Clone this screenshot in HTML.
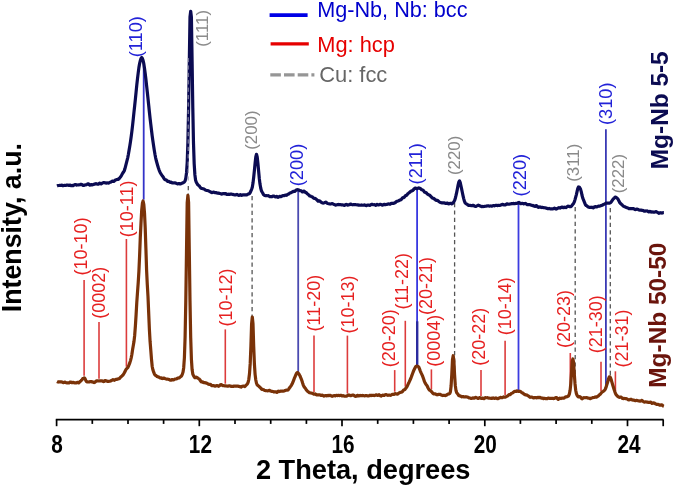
<!DOCTYPE html>
<html><head><meta charset="utf-8"><title>XRD</title><style>html,body{margin:0;padding:0;background:#fff;width:675px;height:487px;overflow:hidden}svg{display:block}</style></head><body>
<svg width="675" height="487" viewBox="0 0 675 487">
<rect width="675" height="487" fill="#fff"/>
<line x1="143.7" y1="63.3" x2="143.7" y2="199.7" stroke="#3333c8" stroke-width="1.8"/>
<line x1="298.2" y1="189.8" x2="298.2" y2="373.2" stroke="#4a4ab0" stroke-width="1.8"/>
<line x1="417.1" y1="188.6" x2="417.1" y2="366.1" stroke="#3838e0" stroke-width="1.8"/>
<line x1="518.5" y1="202.6" x2="518.5" y2="391.4" stroke="#3c3ce0" stroke-width="1.8"/>
<line x1="605.9" y1="129.2" x2="605.9" y2="387.6" stroke="#3a3ab4" stroke-width="1.8"/>
<line x1="417.2" y1="321.3" x2="417.2" y2="366" stroke="#2b2b9e" stroke-width="2.4"/>
<line x1="188.3" y1="186.0" x2="188.3" y2="196.0" stroke="#555" stroke-width="1.3" stroke-dasharray="4.2 3.2"/>
<line x1="252.1" y1="196.0" x2="252.1" y2="319.0" stroke="#555" stroke-width="1.3" stroke-dasharray="4.2 3.2"/>
<line x1="454.6" y1="203.0" x2="454.6" y2="375.1" stroke="#555" stroke-width="1.3" stroke-dasharray="4.2 3.2"/>
<line x1="575.2" y1="207.0" x2="575.2" y2="385.6" stroke="#555" stroke-width="1.3" stroke-dasharray="4.2 3.2"/>
<line x1="610.3" y1="208.0" x2="610.3" y2="377.5" stroke="#555" stroke-width="1.3" stroke-dasharray="4.2 3.2"/>
<line x1="84.1" y1="279.9" x2="84.1" y2="375.8" stroke="#dc3c3c" stroke-width="1.6"/>
<line x1="99.0" y1="322.0" x2="99.0" y2="378.8" stroke="#dc3c3c" stroke-width="1.6"/>
<line x1="126.4" y1="239.0" x2="126.4" y2="366.7" stroke="#dc3c3c" stroke-width="1.6"/>
<line x1="225.3" y1="329.4" x2="225.3" y2="383.7" stroke="#dc3c3c" stroke-width="1.6"/>
<line x1="314.0" y1="335.6" x2="314.0" y2="392.0" stroke="#dc3c3c" stroke-width="1.6"/>
<line x1="347.4" y1="335.6" x2="347.4" y2="393.5" stroke="#dc3c3c" stroke-width="1.6"/>
<line x1="394.7" y1="370.1" x2="394.7" y2="391.7" stroke="#dc3c3c" stroke-width="1.6"/>
<line x1="405.3" y1="320.8" x2="405.3" y2="386.7" stroke="#dc3c3c" stroke-width="1.6"/>
<line x1="431.4" y1="369.4" x2="431.4" y2="389.4" stroke="#dc3c3c" stroke-width="1.6"/>
<line x1="481.0" y1="370.1" x2="481.0" y2="396.1" stroke="#dc3c3c" stroke-width="1.6"/>
<line x1="505.1" y1="340.7" x2="505.1" y2="394.9" stroke="#dc3c3c" stroke-width="1.6"/>
<line x1="570.3" y1="353.0" x2="570.3" y2="386.2" stroke="#dc3c3c" stroke-width="1.6"/>
<line x1="601.0" y1="361.8" x2="601.0" y2="391.1" stroke="#dc3c3c" stroke-width="1.6"/>
<line x1="615.4" y1="371.3" x2="615.4" y2="391.0" stroke="#dc3c3c" stroke-width="1.6"/>
<path d="M57.00 381.51L57.70 381.91L58.40 382.06L59.10 381.82L59.80 381.77L60.50 381.78L61.20 381.83L61.90 381.96L62.60 382.29L63.30 382.68L64.00 382.52L64.70 382.12L65.40 382.31L66.10 382.77L66.80 382.82L67.50 382.77L68.20 383.02L68.90 382.96L69.60 382.39L70.30 382.02L71.00 382.15L71.70 382.55L72.40 382.60L73.10 382.41L73.80 382.57L74.50 382.87L75.20 382.78L75.90 382.75L76.60 382.81L77.30 382.30L78.00 382.36L78.70 382.86L79.40 382.33L80.10 381.48L80.80 380.90L81.50 380.29L82.20 379.51L82.90 378.53L83.60 378.21L84.30 377.85L85.00 378.64L85.70 380.18L86.40 381.51L87.10 381.90L87.80 381.92L88.50 381.99L89.20 381.90L89.90 381.68L90.60 381.52L91.30 381.66L92.00 381.85L92.70 381.93L93.40 382.26L94.10 382.57L94.80 382.27L95.50 381.58L96.20 381.12L96.90 380.90L97.60 380.81L98.30 380.95L99.00 381.03L99.70 380.96L100.40 380.93L101.10 380.93L101.80 380.84L102.50 381.04L103.20 381.60L103.90 381.51L104.60 380.86L105.30 380.61L106.00 380.74L106.70 381.07L107.40 381.40L108.10 381.43L108.80 381.33L109.50 381.25L110.20 381.11L110.90 380.87L111.60 380.56L112.30 380.02L113.00 379.60L113.70 379.96L114.40 380.26L115.10 379.71L115.80 379.40L116.50 379.51L117.20 379.16L117.90 378.88L118.60 378.91L119.30 378.55L120.00 377.80L120.70 377.03L121.40 376.47L122.10 375.89L122.80 375.17L123.50 374.29L124.20 373.06L124.90 371.66L125.60 370.24L126.30 368.99L127.00 368.34L127.70 367.66L128.40 366.26L129.10 364.67L129.80 362.91L130.50 360.59L131.20 357.85L131.90 354.18L132.60 349.58L133.30 345.46L134.00 341.37L134.70 335.23L135.40 325.87L136.10 314.55L136.80 302.25L137.50 292.31L138.20 282.95L138.90 271.34L139.60 255.86L140.30 237.27L141.00 223.09L141.70 210.14L142.40 203.31L143.10 201.00L143.80 204.38L144.50 212.94L145.20 227.68L145.90 248.36L146.60 270.36L147.30 284.68L148.00 296.66L148.70 313.17L149.40 329.59L150.10 341.73L150.80 350.42L151.50 359.45L152.20 366.48L152.90 369.83L153.60 371.94L154.30 373.69L155.00 375.00L155.70 375.40L156.40 375.84L157.10 376.50L157.80 376.80L158.50 376.85L159.20 377.27L159.90 377.97L160.60 378.03L161.30 377.83L162.00 378.37L162.70 378.58L163.40 378.07L164.10 378.08L164.80 378.56L165.50 378.79L166.20 379.03L166.90 379.23L167.60 379.15L168.30 379.24L169.00 379.52L169.70 379.85L170.40 380.17L171.10 380.09L171.80 379.61L172.50 379.62L173.20 380.01L173.90 379.82L174.60 379.26L175.30 378.99L176.00 379.00L176.70 378.75L177.40 378.34L178.10 378.05L178.80 377.98L179.50 377.70L180.20 376.99L180.90 376.47L181.60 375.81L182.30 374.38L183.00 372.13L183.70 367.70L184.40 357.74L185.10 337.05L185.80 300.88L186.50 251.53L187.20 202.66L187.90 195.32L188.60 202.42L189.30 251.40L190.00 301.07L190.70 337.65L191.40 359.03L192.10 369.62L192.80 374.10L193.50 375.71L194.20 376.74L194.90 377.65L195.60 377.59L196.30 377.13L197.00 377.40L197.70 377.94L198.40 378.50L199.10 378.98L199.80 379.63L200.50 380.81L201.20 381.78L201.90 381.82L202.60 381.87L203.30 382.42L204.00 382.58L204.70 382.66L205.40 382.83L206.10 382.91L206.80 383.21L207.50 383.61L208.20 384.02L208.90 384.37L209.60 384.38L210.30 384.37L211.00 384.90L211.70 385.57L212.40 385.69L213.10 385.56L213.80 385.65L214.50 385.88L215.20 386.12L215.90 386.02L216.60 385.53L217.30 385.52L218.00 386.05L218.70 386.33L219.40 385.81L220.10 385.03L220.80 384.67L221.50 384.69L222.20 385.29L222.90 385.67L223.60 385.56L224.30 385.72L225.00 385.88L225.70 385.88L226.40 386.02L227.10 386.10L227.80 386.05L228.50 386.06L229.20 385.86L229.90 385.78L230.60 386.17L231.30 386.35L232.00 386.28L232.70 386.47L233.40 386.37L234.10 385.98L234.80 385.99L235.50 386.03L236.20 386.06L236.90 386.19L237.60 386.11L238.30 386.16L239.00 386.41L239.70 386.58L240.40 386.89L241.10 387.06L241.80 386.66L242.50 386.24L243.20 386.10L243.90 386.34L244.60 386.57L245.30 386.13L246.00 385.24L246.70 384.65L247.40 383.95L248.10 382.32L248.80 379.31L249.50 373.74L250.20 363.63L250.90 346.36L251.60 323.83L252.30 317.03L253.00 323.70L253.70 346.21L254.40 363.81L255.10 374.33L255.80 379.98L256.50 383.26L257.20 384.96L257.90 385.44L258.60 385.97L259.30 386.80L260.00 387.43L260.70 388.05L261.40 388.88L262.10 389.37L262.80 389.46L263.50 389.68L264.20 390.12L264.90 390.50L265.60 390.61L266.30 390.70L267.00 390.74L267.70 390.82L268.40 390.76L269.10 390.36L269.80 390.44L270.50 390.96L271.20 391.18L271.90 391.34L272.60 391.53L273.30 391.60L274.00 391.95L274.70 391.99L275.40 391.75L276.10 392.08L276.80 392.43L277.50 391.85L278.20 391.25L278.90 391.61L279.60 391.52L280.30 391.15L281.00 391.23L281.70 391.14L282.40 391.18L283.10 391.17L283.80 390.99L284.50 390.85L285.20 390.56L285.90 390.33L286.60 390.09L287.30 390.06L288.00 390.02L288.70 389.10L289.40 387.96L290.10 387.13L290.80 386.16L291.50 385.09L292.20 383.81L292.90 382.20L293.60 380.35L294.30 378.45L295.00 376.88L295.70 375.24L296.40 373.55L297.10 372.63L297.80 372.70L298.50 373.54L299.20 374.54L299.90 375.73L300.60 377.35L301.30 379.07L302.00 381.08L302.70 383.34L303.40 385.35L304.10 386.82L304.80 387.64L305.50 388.50L306.20 389.67L306.90 390.59L307.60 391.25L308.30 391.84L309.00 392.36L309.70 392.79L310.40 392.93L311.10 393.04L311.80 393.26L312.50 393.31L313.20 393.69L313.90 394.24L314.60 394.03L315.30 393.93L316.00 394.55L316.70 394.96L317.40 394.94L318.10 394.86L318.80 394.82L319.50 394.74L320.20 394.97L320.90 395.39L321.60 395.27L322.30 395.10L323.00 395.53L323.70 396.07L324.40 395.96L325.10 395.54L325.80 395.55L326.50 395.82L327.20 395.67L327.90 395.39L328.60 395.60L329.30 395.59L330.00 395.35L330.70 395.54L331.40 396.06L332.10 396.28L332.80 396.03L333.50 395.73L334.20 395.60L334.90 395.82L335.60 395.78L336.30 395.32L337.00 395.46L337.70 395.61L338.40 395.28L339.10 395.45L339.80 395.60L340.50 395.27L341.20 395.38L341.90 395.81L342.60 395.80L343.30 395.65L344.00 395.90L344.70 396.14L345.40 396.27L346.10 396.27L346.80 396.06L347.50 395.67L348.20 395.12L348.90 394.97L349.60 395.21L350.30 395.62L351.00 395.69L351.70 395.31L352.40 395.20L353.10 395.08L353.80 395.30L354.50 395.92L355.20 396.17L355.90 396.34L356.60 396.13L357.30 395.34L358.00 395.33L358.70 395.95L359.40 395.70L360.10 395.40L360.80 395.72L361.50 395.71L362.20 395.44L362.90 395.48L363.60 395.65L364.30 395.79L365.00 395.80L365.70 395.58L366.40 395.55L367.10 395.77L367.80 395.92L368.50 395.90L369.20 395.64L369.90 395.34L370.60 395.42L371.30 395.60L372.00 395.37L372.70 395.24L373.40 395.32L374.10 395.55L374.80 395.49L375.50 395.06L376.20 394.89L376.90 395.08L377.60 395.47L378.30 395.22L379.00 394.74L379.70 395.09L380.40 395.77L381.10 396.05L381.80 395.69L382.50 395.15L383.20 395.25L383.90 395.48L384.60 395.09L385.30 394.74L386.00 394.55L386.70 394.70L387.40 395.20L388.10 395.30L388.80 395.14L389.50 395.15L390.20 395.30L390.90 395.23L391.60 394.77L392.30 394.30L393.00 394.28L393.70 394.47L394.40 394.09L395.10 393.66L395.80 393.79L396.50 394.03L397.20 394.17L397.90 393.92L398.60 393.25L399.30 392.83L400.00 392.56L400.70 392.22L401.40 392.13L402.10 391.96L402.80 391.20L403.50 390.17L404.20 389.75L404.90 389.43L405.60 388.52L406.30 387.70L407.00 386.68L407.70 385.09L408.40 383.59L409.10 382.21L409.80 380.59L410.50 378.99L411.20 377.29L411.90 375.35L412.60 373.54L413.30 371.68L414.00 369.90L414.70 368.54L415.40 367.21L416.10 366.19L416.80 366.04L417.50 366.26L418.20 366.46L418.90 367.31L419.60 369.13L420.30 371.01L421.00 372.64L421.70 374.13L422.40 375.67L423.10 377.51L423.80 379.62L424.50 381.65L425.20 383.08L425.90 384.19L426.60 385.13L427.30 386.23L428.00 387.73L428.70 389.12L429.40 390.07L430.10 390.43L430.80 390.87L431.50 391.69L432.20 392.38L432.90 393.26L433.60 393.91L434.30 393.99L435.00 393.85L435.70 394.01L436.40 394.64L437.10 394.80L437.80 394.58L438.50 394.41L439.20 394.33L439.90 394.36L440.60 394.60L441.30 394.92L442.00 395.25L442.70 395.53L443.40 395.45L444.10 395.25L444.80 395.44L445.50 395.58L446.20 395.32L446.90 394.91L447.60 394.26L448.30 394.03L449.00 394.00L449.70 393.50L450.40 391.88L451.10 385.99L451.80 374.08L452.50 359.64L453.20 355.73L453.90 360.90L454.60 375.10L455.30 385.40L456.00 390.62L456.70 392.74L457.40 393.53L458.10 394.43L458.80 395.57L459.50 395.92L460.20 395.79L460.90 396.27L461.60 396.82L462.30 396.67L463.00 396.56L463.70 396.85L464.40 396.99L465.10 396.86L465.80 396.72L466.50 396.82L467.20 396.97L467.90 397.20L468.60 397.64L469.30 397.88L470.00 398.07L470.70 398.36L471.40 398.41L472.10 398.21L472.80 397.88L473.50 397.98L474.20 398.24L474.90 397.82L475.60 397.44L476.30 397.58L477.00 397.93L477.70 398.28L478.40 398.33L479.10 397.87L479.80 397.57L480.50 398.04L481.20 398.39L481.90 398.21L482.60 398.13L483.30 398.44L484.00 398.58L484.70 398.10L485.40 397.64L486.10 397.75L486.80 397.76L487.50 397.72L488.20 398.00L488.90 398.11L489.60 398.22L490.30 398.24L491.00 398.32L491.70 398.49L492.40 398.13L493.10 397.92L493.80 398.25L494.50 398.41L495.20 398.11L495.90 397.93L496.60 398.24L497.30 398.63L498.00 398.68L498.70 398.28L499.40 397.93L500.10 397.59L500.80 397.37L501.50 397.70L502.20 397.77L502.90 397.29L503.60 396.91L504.30 397.01L505.00 397.18L505.70 396.94L506.40 396.55L507.10 396.18L507.80 395.83L508.50 395.19L509.20 394.57L509.90 394.67L510.60 394.35L511.30 393.50L512.00 393.17L512.70 392.80L513.40 392.24L514.10 391.71L514.80 391.26L515.50 391.43L516.20 391.40L516.90 390.85L517.60 390.99L518.30 391.44L519.00 391.35L519.70 391.18L520.40 391.46L521.10 392.05L521.80 392.65L522.50 392.97L523.20 393.30L523.90 393.97L524.60 394.50L525.30 394.81L526.00 394.88L526.70 394.99L527.40 395.39L528.10 395.76L528.80 396.28L529.50 396.94L530.20 397.29L530.90 397.17L531.60 397.00L532.30 397.20L533.00 397.69L533.70 397.87L534.40 397.65L535.10 397.50L535.80 397.55L536.50 397.89L537.20 397.75L537.90 397.26L538.60 397.53L539.30 397.53L540.00 397.33L540.70 397.79L541.40 398.14L542.10 397.99L542.80 398.08L543.50 398.56L544.20 398.44L544.90 398.30L545.60 398.66L546.30 398.72L547.00 398.71L547.70 398.38L548.40 398.06L549.10 398.38L549.80 398.44L550.50 398.43L551.20 398.48L551.90 398.26L552.60 398.39L553.30 398.55L554.00 398.46L554.70 398.20L555.40 397.75L556.10 397.57L556.80 397.85L557.50 398.74L558.20 399.40L558.90 398.82L559.60 398.21L560.30 398.30L561.00 398.53L561.70 398.30L562.40 397.99L563.10 398.13L563.80 398.17L564.50 397.76L565.20 397.02L565.90 396.87L566.60 396.95L567.30 396.55L568.00 396.30L568.70 395.68L569.40 393.90L570.10 390.30L570.80 383.55L571.50 373.07L572.20 361.21L572.90 358.98L573.60 362.23L574.30 373.76L575.00 383.73L575.70 390.20L576.40 393.60L577.10 395.39L577.80 396.44L578.50 396.95L579.20 396.73L579.90 396.56L580.60 397.21L581.30 398.20L582.00 398.77L582.70 398.41L583.40 397.82L584.10 397.69L584.80 397.73L585.50 397.77L586.20 397.58L586.90 397.57L587.60 398.02L588.30 398.18L589.00 398.10L589.70 398.40L590.40 398.65L591.10 398.23L591.80 397.95L592.50 397.80L593.20 397.51L593.90 397.50L594.60 397.25L595.30 396.96L596.00 397.19L596.70 397.12L597.40 396.54L598.10 396.18L598.80 395.52L599.50 394.73L600.20 394.30L600.90 393.43L601.60 392.46L602.30 391.92L603.00 391.57L603.70 391.05L604.40 390.32L605.10 389.50L605.80 387.92L606.50 385.69L607.20 383.56L607.90 381.23L608.60 378.54L609.30 376.79L610.00 376.88L610.70 378.30L611.40 380.38L612.10 382.86L612.80 385.26L613.50 387.52L614.20 389.80L614.90 391.86L615.60 393.72L616.30 394.94L617.00 395.68L617.70 396.40L618.40 396.87L619.10 397.17L619.80 397.31L620.50 397.15L621.20 397.20L621.90 397.85L622.60 398.51L623.30 398.56L624.00 398.43L624.70 398.50L625.40 398.59L626.10 398.68L626.80 398.76L627.50 399.22L628.20 399.80L628.90 399.94L629.60 399.77L630.30 399.36L631.00 399.27L631.70 399.66L632.40 399.92L633.10 400.07L633.80 400.19L634.50 400.30L635.20 400.66L635.90 400.63L636.60 400.33L637.30 400.50L638.00 400.78L638.70 400.94L639.40 400.92L640.10 401.11L640.80 400.96L641.50 400.33L642.20 400.52L642.90 401.30L643.60 401.80L644.30 402.10L645.00 401.96L645.70 401.78L646.40 402.00L647.10 402.12L647.80 402.20L648.50 402.44L649.20 402.52L649.90 402.32L650.60 402.13L651.30 402.60L652.00 403.35L652.70 403.23L653.40 402.91L654.10 403.05L654.80 403.34L655.50 403.77L656.20 404.19L656.90 404.40L657.60 404.40L658.30 404.40L659.00 404.75L659.70 405.17L660.40 405.20L661.10 404.95L661.80 404.86L662.50 405.36L663.20 405.95L663.90 406.17" fill="none" stroke="#7a3208" stroke-width="3.2" stroke-linejoin="round"/>
<path d="M57.00 185.95L57.70 185.65L58.40 185.52L59.10 185.52L59.80 185.34L60.50 185.38L61.20 185.23L61.90 185.12L62.60 185.58L63.30 185.66L64.00 185.31L64.70 185.35L65.40 185.48L66.10 185.35L66.80 185.06L67.50 184.99L68.20 185.31L68.90 185.48L69.60 185.19L70.30 185.13L71.00 185.54L71.70 185.48L72.40 185.43L73.10 185.73L73.80 185.27L74.50 184.71L75.20 184.52L75.90 184.59L76.60 185.03L77.30 185.02L78.00 184.95L78.70 185.01L79.40 184.78L80.10 184.62L80.80 184.37L81.50 184.30L82.20 184.69L82.90 185.37L83.60 185.50L84.30 185.09L85.00 184.95L85.70 184.90L86.40 184.75L87.10 184.31L87.80 183.81L88.50 183.91L89.20 184.73L89.90 185.24L90.60 184.79L91.30 184.59L92.00 184.88L92.70 184.68L93.40 184.38L94.10 184.29L94.80 184.13L95.50 183.81L96.20 183.68L96.90 183.91L97.60 184.13L98.30 184.12L99.00 183.57L99.70 183.10L100.40 183.57L101.10 183.96L101.80 183.48L102.50 182.92L103.20 182.70L103.90 182.71L104.60 182.72L105.30 182.85L106.00 183.12L106.70 182.93L107.40 182.85L108.10 183.16L108.80 182.98L109.50 182.44L110.20 182.24L110.90 182.13L111.60 181.52L112.30 181.08L113.00 181.36L113.70 181.46L114.40 180.91L115.10 180.28L115.80 179.92L116.50 179.59L117.20 179.44L117.90 179.51L118.60 179.16L119.30 178.34L120.00 177.52L120.70 176.66L121.40 175.57L122.10 174.32L122.80 173.02L123.50 172.02L124.20 170.94L124.90 168.83L125.60 166.14L126.30 163.43L127.00 160.70L127.70 157.85L128.40 154.26L129.10 150.11L129.80 145.92L130.50 141.43L131.20 136.52L131.90 131.12L132.60 125.17L133.30 118.57L134.00 111.90L134.70 105.50L135.40 98.93L136.10 91.87L136.80 84.87L137.50 78.67L138.20 72.93L138.90 67.61L139.60 63.56L140.30 60.70L141.00 58.39L141.70 57.51L142.40 58.47L143.10 60.51L143.80 63.71L144.50 68.16L145.20 73.34L145.90 79.19L146.60 85.58L147.30 91.99L148.00 98.48L148.70 105.21L149.40 112.01L150.10 118.53L150.80 124.41L151.50 130.21L152.20 135.99L152.90 140.94L153.60 145.64L154.30 150.39L155.00 154.51L155.70 158.08L156.40 161.03L157.10 163.50L157.80 165.94L158.50 168.32L159.20 170.29L159.90 171.88L160.60 173.20L161.30 174.37L162.00 175.43L162.70 176.28L163.40 177.39L164.10 178.61L164.80 179.52L165.50 179.85L166.20 179.84L166.90 180.54L167.60 181.36L168.30 181.45L169.00 181.40L169.70 182.01L170.40 182.40L171.10 182.19L171.80 182.59L172.50 183.00L173.20 182.95L173.90 182.99L174.60 182.90L175.30 182.88L176.00 183.17L176.70 183.51L177.40 183.79L178.10 183.83L178.80 183.59L179.50 183.69L180.20 184.01L180.90 183.69L181.60 183.23L182.30 183.13L183.00 182.87L183.70 182.46L184.40 181.97L185.10 180.92L185.80 178.28L186.50 172.91L187.20 162.59L187.90 142.29L188.60 107.75L189.30 61.65L190.00 16.92L190.70 11.24L191.40 17.08L192.10 61.38L192.80 107.78L193.50 143.16L194.20 164.01L194.90 174.89L195.60 180.17L196.30 182.18L197.00 183.43L197.70 184.64L198.40 185.18L199.10 185.69L199.80 186.73L200.50 187.64L201.20 188.20L201.90 188.51L202.60 188.64L203.30 188.74L204.00 188.95L204.70 189.47L205.40 190.00L206.10 190.26L206.80 190.47L207.50 190.53L208.20 190.71L208.90 191.09L209.60 191.46L210.30 191.82L211.00 192.25L211.70 192.58L212.40 192.40L213.10 192.12L213.80 192.15L214.50 192.53L215.20 192.76L215.90 192.65L216.60 192.85L217.30 193.14L218.00 193.04L218.70 193.11L219.40 193.44L220.10 193.54L220.80 193.69L221.50 194.03L222.20 194.01L222.90 193.65L223.60 193.58L224.30 193.80L225.00 193.63L225.70 193.60L226.40 194.14L227.10 194.41L227.80 194.23L228.50 194.20L229.20 194.41L229.90 194.35L230.60 194.10L231.30 194.03L232.00 194.23L232.70 194.44L233.40 194.58L234.10 194.75L234.80 194.91L235.50 194.95L236.20 194.64L236.90 194.46L237.60 194.78L238.30 195.21L239.00 195.44L239.70 195.06L240.40 194.59L241.10 194.98L241.80 195.39L242.50 195.06L243.20 194.79L243.90 194.79L244.60 194.78L245.30 194.82L246.00 194.90L246.70 194.93L247.40 194.52L248.10 193.99L248.80 193.91L249.50 193.52L250.20 192.49L250.90 191.01L251.60 189.30L252.30 187.15L253.00 183.10L253.70 177.10L254.40 170.30L255.10 163.25L255.80 157.00L256.50 154.27L257.20 156.88L257.90 163.18L258.60 170.96L259.30 178.47L260.00 184.08L260.70 188.01L261.40 190.65L262.10 192.01L262.80 193.16L263.50 194.51L264.20 195.21L264.90 195.45L265.60 195.66L266.30 195.65L267.00 195.74L267.70 195.71L268.40 195.66L269.10 196.20L269.80 196.61L270.50 196.51L271.20 196.67L271.90 196.79L272.60 196.28L273.30 196.00L274.00 196.16L274.70 196.51L275.40 197.01L276.10 196.91L276.80 196.46L277.50 196.83L278.20 197.31L278.90 196.75L279.60 196.30L280.30 196.54L281.00 196.62L281.70 196.27L282.40 195.73L283.10 195.58L283.80 195.77L284.50 195.41L285.20 195.05L285.90 195.34L286.60 195.23L287.30 194.62L288.00 194.26L288.70 193.96L289.40 193.36L290.10 192.95L290.80 192.74L291.50 192.38L292.20 192.04L292.90 191.62L293.60 191.40L294.30 191.52L295.00 191.35L295.70 190.50L296.40 189.88L297.10 189.79L297.80 189.71L298.50 189.86L299.20 190.26L299.90 190.69L300.60 190.78L301.30 190.90L302.00 191.67L302.70 191.97L303.40 191.33L304.10 191.15L304.80 191.93L305.50 192.40L306.20 192.57L306.90 193.34L307.60 194.00L308.30 194.48L309.00 195.32L309.70 195.88L310.40 196.08L311.10 196.38L311.80 196.64L312.50 197.01L313.20 197.71L313.90 198.28L314.60 198.27L315.30 198.48L316.00 199.15L316.70 199.57L317.40 200.36L318.10 201.17L318.80 201.08L319.50 200.79L320.20 201.24L320.90 202.07L321.60 202.47L322.30 202.79L323.00 203.10L323.70 202.98L324.40 202.81L325.10 202.41L325.80 202.06L326.50 202.50L327.20 203.21L327.90 203.56L328.60 203.73L329.30 203.79L330.00 203.97L330.70 204.03L331.40 203.81L332.10 203.64L332.80 203.79L333.50 204.27L334.20 204.50L334.90 204.72L335.60 205.08L336.30 205.00L337.00 204.81L337.70 204.64L338.40 204.46L339.10 204.70L339.80 204.69L340.50 204.60L341.20 204.91L341.90 204.96L342.60 204.92L343.30 205.01L344.00 205.31L344.70 205.31L345.40 204.66L346.10 204.37L346.80 204.81L347.50 205.12L348.20 204.89L348.90 204.81L349.60 204.64L350.30 204.18L351.00 204.22L351.70 204.56L352.40 204.79L353.10 204.68L353.80 204.55L354.50 204.55L355.20 204.56L355.90 204.72L356.60 204.78L357.30 204.73L358.00 204.91L358.70 205.18L359.40 205.21L360.10 205.24L360.80 205.14L361.50 204.96L362.20 205.14L362.90 205.27L363.60 205.13L364.30 204.92L365.00 204.98L365.70 205.51L366.40 205.65L367.10 205.19L367.80 205.02L368.50 205.12L369.20 205.26L369.90 205.41L370.60 204.99L371.30 204.30L372.00 204.31L372.70 204.63L373.40 204.73L374.10 204.68L374.80 204.79L375.50 205.34L376.20 205.19L376.90 204.38L377.60 204.49L378.30 204.95L379.00 204.88L379.70 204.57L380.40 204.27L381.10 204.44L381.80 204.98L382.50 205.14L383.20 204.74L383.90 204.42L384.60 204.45L385.30 204.54L386.00 204.58L386.70 204.39L387.40 204.15L388.10 203.99L388.80 203.89L389.50 204.20L390.20 204.12L390.90 203.58L391.60 203.34L392.30 203.28L393.00 203.44L393.70 203.31L394.40 202.91L395.10 202.64L395.80 202.11L396.50 201.56L397.20 201.28L397.90 201.04L398.60 200.74L399.30 200.35L400.00 199.97L400.70 199.84L401.40 199.42L402.10 198.41L402.80 197.72L403.50 197.72L404.20 197.40L404.90 196.37L405.60 195.51L406.30 195.38L407.00 194.87L407.70 193.83L408.40 193.31L409.10 192.75L409.80 192.10L410.50 191.60L411.20 190.98L411.90 190.81L412.60 190.69L413.30 189.94L414.00 188.99L414.70 188.34L415.40 188.01L416.10 188.21L416.80 188.71L417.50 188.50L418.20 188.00L418.90 187.93L419.60 188.22L420.30 188.54L421.00 189.08L421.70 189.78L422.40 189.90L423.10 190.15L423.80 191.09L424.50 192.05L425.20 192.46L425.90 192.60L426.60 193.12L427.30 193.84L428.00 194.48L428.70 194.88L429.40 195.05L430.10 195.57L430.80 196.31L431.50 197.04L432.20 197.92L432.90 198.27L433.60 198.38L434.30 198.88L435.00 199.43L435.70 200.08L436.40 200.50L437.10 200.30L437.80 200.50L438.50 201.31L439.20 201.82L439.90 202.16L440.60 202.44L441.30 202.67L442.00 202.82L442.70 202.79L443.40 202.85L444.10 202.83L444.80 202.98L445.50 203.52L446.20 203.50L446.90 202.98L447.60 203.11L448.30 203.76L449.00 203.93L449.70 203.59L450.40 203.23L451.10 203.37L451.80 203.79L452.50 203.46L453.20 202.67L453.90 201.78L454.60 200.39L455.30 198.25L456.00 195.47L456.70 192.31L457.40 188.80L458.10 185.16L458.80 182.01L459.50 180.90L460.20 182.48L460.90 185.52L461.60 188.86L462.30 192.28L463.00 195.60L463.70 198.62L464.40 201.15L465.10 202.73L465.80 203.58L466.50 203.94L467.20 204.28L467.90 205.04L468.60 205.52L469.30 205.40L470.00 205.39L470.70 205.55L471.40 205.58L472.10 205.59L472.80 205.39L473.50 205.41L474.20 205.85L474.90 206.29L475.60 206.46L476.30 206.17L477.00 205.84L477.70 205.50L478.40 205.17L479.10 205.41L479.80 205.83L480.50 206.00L481.20 206.45L481.90 206.62L482.60 206.44L483.30 206.54L484.00 206.52L484.70 206.37L485.40 206.27L486.10 206.13L486.80 205.97L487.50 205.97L488.20 205.91L488.90 205.93L489.60 206.10L490.30 206.01L491.00 205.96L491.70 206.12L492.40 205.91L493.10 205.54L493.80 205.75L494.50 205.81L495.20 205.53L495.90 205.35L496.60 205.36L497.30 205.59L498.00 205.46L498.70 205.37L499.40 205.50L500.10 205.36L500.80 205.09L501.50 204.73L502.20 204.45L502.90 204.38L503.60 204.69L504.30 205.00L505.00 204.95L505.70 204.66L506.40 204.14L507.10 203.86L507.80 204.04L508.50 204.25L509.20 204.17L509.90 204.02L510.60 203.93L511.30 203.71L512.00 203.72L512.70 203.75L513.40 203.43L514.10 203.50L514.80 203.73L515.50 203.54L516.20 203.28L516.90 203.34L517.60 203.28L518.30 202.64L519.00 202.41L519.70 203.01L520.40 203.66L521.10 203.68L521.80 203.29L522.50 203.26L523.20 203.67L523.90 203.85L524.60 203.61L525.30 203.47L526.00 203.80L526.70 204.38L527.40 204.70L528.10 204.77L528.80 204.59L529.50 204.50L530.20 204.77L530.90 205.00L531.60 205.34L532.30 205.60L533.00 205.47L533.70 205.68L534.40 206.28L535.10 206.41L535.80 205.87L536.50 205.64L537.20 206.38L537.90 207.20L538.60 207.32L539.30 207.03L540.00 206.94L540.70 207.31L541.40 207.54L542.10 207.42L542.80 207.44L543.50 207.64L544.20 207.71L544.90 207.74L545.60 208.01L546.30 208.17L547.00 208.33L547.70 208.76L548.40 208.73L549.10 208.47L549.80 208.74L550.50 208.84L551.20 208.74L551.90 208.89L552.60 208.90L553.30 208.74L554.00 208.28L554.70 208.19L555.40 208.83L556.10 209.12L556.80 208.81L557.50 208.43L558.20 207.91L558.90 207.58L559.60 207.96L560.30 208.07L561.00 207.49L561.70 207.14L562.40 207.15L563.10 207.55L563.80 207.67L564.50 207.22L565.20 207.31L565.90 207.61L566.60 207.19L567.30 206.55L568.00 206.18L568.70 206.25L569.40 206.57L570.10 206.58L570.80 206.56L571.50 206.13L572.20 205.11L572.90 204.28L573.60 203.42L574.30 201.91L575.00 199.62L575.70 197.09L576.40 194.60L577.10 191.45L577.80 188.45L578.50 186.97L579.20 187.03L579.90 188.02L580.60 189.35L581.30 191.84L582.00 195.23L582.70 197.82L583.40 199.71L584.10 201.41L584.80 203.23L585.50 204.86L586.20 205.54L586.90 205.84L587.60 206.53L588.30 207.12L589.00 207.21L589.70 207.36L590.40 207.51L591.10 207.32L591.80 207.22L592.50 207.61L593.20 207.83L593.90 207.33L594.60 206.74L595.30 206.64L596.00 206.84L596.70 206.82L597.40 206.67L598.10 206.34L598.80 206.05L599.50 206.16L600.20 206.00L600.90 205.57L601.60 205.43L602.30 205.25L603.00 204.67L603.70 204.28L604.40 204.21L605.10 203.77L605.80 203.17L606.50 203.00L607.20 203.09L607.90 203.02L608.60 203.04L609.30 203.12L610.00 202.94L610.70 202.56L611.40 201.73L612.10 200.62L612.80 199.58L613.50 198.73L614.20 198.06L614.90 197.35L615.60 197.09L616.30 197.54L617.00 198.13L617.70 198.73L618.40 199.79L619.10 201.34L619.80 202.64L620.50 203.47L621.20 204.09L621.90 204.67L622.60 205.39L623.30 206.02L624.00 206.42L624.70 206.68L625.40 207.00L626.10 207.43L626.80 207.61L627.50 207.74L628.20 208.22L628.90 208.63L629.60 208.69L630.30 208.59L631.00 208.47L631.70 208.58L632.40 208.69L633.10 208.51L633.80 208.72L634.50 209.25L635.20 209.59L635.90 209.49L636.60 209.14L637.30 209.08L638.00 209.43L638.70 209.86L639.40 210.03L640.10 209.98L640.80 209.98L641.50 210.31L642.20 210.52L642.90 210.36L643.60 210.71L644.30 211.25L645.00 211.12L645.70 210.94L646.40 210.99L647.10 210.95L647.80 211.26L648.50 211.94L649.20 211.83L649.90 211.29L650.60 211.72L651.30 212.14L652.00 211.82L652.70 211.95L653.40 212.22L654.10 212.05L654.80 212.04L655.50 211.85L656.20 211.66L656.90 212.05L657.60 212.45L658.30 212.94L659.00 213.30L659.70 213.01L660.40 212.71L661.10 212.84L661.80 213.09L662.50 213.02L663.20 212.57L663.90 212.54" fill="none" stroke="#0b0b52" stroke-width="3.2" stroke-linejoin="round"/>
<line x1="188.2" y1="58" x2="188.2" y2="184" stroke="#9a9ab0" stroke-width="1" stroke-dasharray="4.2 3.2"/>
<g stroke="#000" stroke-width="1.7" fill="none">
<path d="M55.8 419.55H663.6"/>
<path d="M56.6 419.55V426.2"/>
<path d="M92.3 419.55V423.9"/>
<path d="M128.0 419.55V423.9"/>
<path d="M163.6 419.55V423.9"/>
<path d="M199.3 419.55V426.2"/>
<path d="M235.0 419.55V423.9"/>
<path d="M270.7 419.55V423.9"/>
<path d="M306.4 419.55V423.9"/>
<path d="M342.0 419.55V426.2"/>
<path d="M377.7 419.55V423.9"/>
<path d="M413.4 419.55V423.9"/>
<path d="M449.1 419.55V423.9"/>
<path d="M484.8 419.55V426.2"/>
<path d="M520.4 419.55V423.9"/>
<path d="M556.1 419.55V423.9"/>
<path d="M591.8 419.55V423.9"/>
<path d="M627.5 419.55V426.2"/>
<path d="M663.2 419.55V426.2"/>
</g>
<text transform="translate(56.9 453.4) scale(0.83 1)" text-anchor="middle" font-family="Liberation Sans, Arial, sans-serif" font-weight="bold" font-size="25">8</text>
<text transform="translate(200.4 453.4) scale(0.83 1)" text-anchor="middle" font-family="Liberation Sans, Arial, sans-serif" font-weight="bold" font-size="25">12</text>
<text transform="translate(343.0 453.4) scale(0.83 1)" text-anchor="middle" font-family="Liberation Sans, Arial, sans-serif" font-weight="bold" font-size="25">16</text>
<text transform="translate(485.3 453.4) scale(0.83 1)" text-anchor="middle" font-family="Liberation Sans, Arial, sans-serif" font-weight="bold" font-size="25">20</text>
<text transform="translate(629.1 453.4) scale(0.83 1)" text-anchor="middle" font-family="Liberation Sans, Arial, sans-serif" font-weight="bold" font-size="25">24</text>
<text x="363.2" y="479.2" text-anchor="middle" font-family="Liberation Sans, Arial, sans-serif" font-weight="bold" font-size="27.2">2 Theta, degrees</text>
<text transform="translate(21.1 312.3) rotate(-90)" font-family="Liberation Sans, Arial, sans-serif" font-weight="bold" font-size="26.8">Intensity, a.u.</text>
<text transform="translate(667.6 169.2) rotate(-90)" font-family="Liberation Sans, Arial, sans-serif" font-weight="bold" font-size="24.4" fill="#0b0b52">Mg-Nb 5-5</text>
<text transform="translate(666 387.7) rotate(-90)" font-family="Liberation Sans, Arial, sans-serif" font-weight="bold" font-size="24.4" fill="#6a140c">Mg-Nb 50-50</text>
<line x1="269.6" y1="15.1" x2="307.6" y2="15.1" stroke="#0000e6" stroke-width="3.6"/>
<line x1="270.6" y1="43.9" x2="308.8" y2="43.9" stroke="#e60000" stroke-width="3.4"/>
<line x1="270.3" y1="74.8" x2="314.4" y2="74.8" stroke="#969696" stroke-width="3.2" stroke-dasharray="10.6 3.1"/>
<text x="317.2" y="17.1" font-family="Liberation Sans, Arial, sans-serif" font-size="21.65" fill="#0000cc">Mg-Nb, Nb: bcc</text>
<text x="317.3" y="52" font-family="Liberation Sans, Arial, sans-serif" font-size="21.8" fill="#e60000">Mg: hcp</text>
<text x="319.2" y="82" font-family="Liberation Sans, Arial, sans-serif" font-size="21.9" fill="#666">Cu: fcc</text>
<text transform="translate(142.2 57.2) rotate(-90)" font-family="Liberation Sans, Arial, sans-serif" font-size="18.2" fill="#2222d8">(110)</text>
<text transform="translate(208.4 46.8) rotate(-90)" font-family="Liberation Sans, Arial, sans-serif" font-size="16.9" fill="#8c8c8c">(111)</text>
<text transform="translate(257.4 149.8) rotate(-90)" font-family="Liberation Sans, Arial, sans-serif" font-size="16.9" fill="#8a8a8a">(200)</text>
<text transform="translate(303.3 186.2) rotate(-90)" font-family="Liberation Sans, Arial, sans-serif" font-size="18.2" fill="#2222d8">(200)</text>
<text transform="translate(421.9 184.4) rotate(-90)" font-family="Liberation Sans, Arial, sans-serif" font-size="18.2" fill="#2222d8">(211)</text>
<text transform="translate(460.0 175.1) rotate(-90)" font-family="Liberation Sans, Arial, sans-serif" font-size="16.9" fill="#8a8a8a">(220)</text>
<text transform="translate(526.2 196.4) rotate(-90)" font-family="Liberation Sans, Arial, sans-serif" font-size="18.2" fill="#2222d8">(220)</text>
<text transform="translate(579.3 181.8) rotate(-90)" font-family="Liberation Sans, Arial, sans-serif" font-size="16.9" fill="#8a8a8a">(311)</text>
<text transform="translate(612.0 125.0) rotate(-90)" font-family="Liberation Sans, Arial, sans-serif" font-size="18.2" fill="#2222d8">(310)</text>
<text transform="translate(624.2 193.3) rotate(-90)" font-family="Liberation Sans, Arial, sans-serif" font-size="16.9" fill="#8a8a8a">(222)</text>
<text transform="translate(86.7 275.4) rotate(-90)" font-family="Liberation Sans, Arial, sans-serif" font-size="18.0" fill="#e62020">(10-10)</text>
<text transform="translate(105.2 318.8) rotate(-90)" font-family="Liberation Sans, Arial, sans-serif" font-size="18.0" fill="#e62020">(0002)</text>
<text transform="translate(132.9 237.2) rotate(-90)" font-family="Liberation Sans, Arial, sans-serif" font-size="18.0" fill="#e62020">(10-11)</text>
<text transform="translate(231.7 326.5) rotate(-90)" font-family="Liberation Sans, Arial, sans-serif" font-size="18.0" fill="#e62020">(10-12)</text>
<text transform="translate(319.9 331.5) rotate(-90)" font-family="Liberation Sans, Arial, sans-serif" font-size="18.0" fill="#e62020">(11-20)</text>
<text transform="translate(353.7 333.6) rotate(-90)" font-family="Liberation Sans, Arial, sans-serif" font-size="18.0" fill="#e62020">(10-13)</text>
<text transform="translate(395.2 367.2) rotate(-90)" font-family="Liberation Sans, Arial, sans-serif" font-size="18.0" fill="#e62020">(20-20)</text>
<text transform="translate(407.5 309.6) rotate(-90)" font-family="Liberation Sans, Arial, sans-serif" font-size="18.0" fill="#e62020">(11-22)</text>
<text transform="translate(432.2 315.0) rotate(-90)" font-family="Liberation Sans, Arial, sans-serif" font-size="18.0" fill="#e62020">(20-21)</text>
<text transform="translate(439.6 366.7) rotate(-90)" font-family="Liberation Sans, Arial, sans-serif" font-size="18.0" fill="#e62020">(0004)</text>
<text transform="translate(485.4 365.7) rotate(-90)" font-family="Liberation Sans, Arial, sans-serif" font-size="18.0" fill="#e62020">(20-22)</text>
<text transform="translate(510.5 335.2) rotate(-90)" font-family="Liberation Sans, Arial, sans-serif" font-size="18.0" fill="#e62020">(10-14)</text>
<text transform="translate(570.3 348.0) rotate(-90)" font-family="Liberation Sans, Arial, sans-serif" font-size="18.0" fill="#e62020">(20-23)</text>
<text transform="translate(601.9 353.2) rotate(-90)" font-family="Liberation Sans, Arial, sans-serif" font-size="18.0" fill="#e62020">(21-30)</text>
<text transform="translate(627.6 367.5) rotate(-90)" font-family="Liberation Sans, Arial, sans-serif" font-size="18.0" fill="#e62020">(21-31)</text>
</svg>
</body></html>
